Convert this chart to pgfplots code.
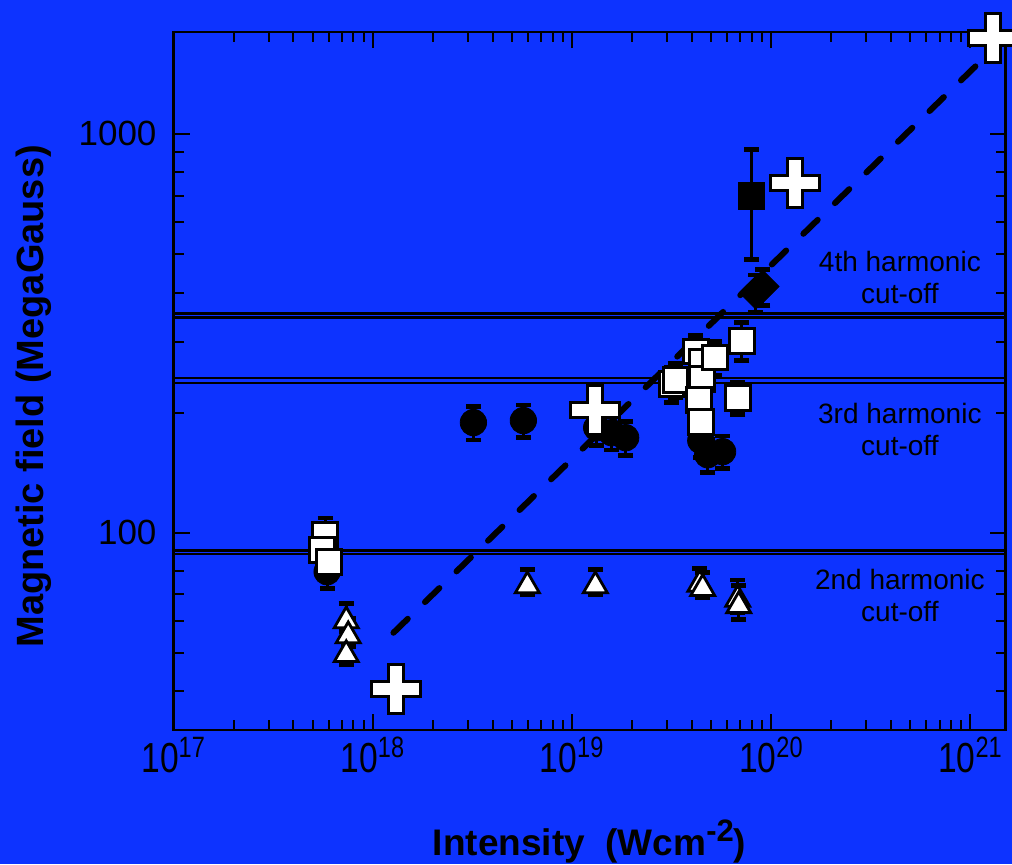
\documentclass[border=0pt]{standalone}
\usepackage{fontspec}
\setmainfont{Liberation Sans}
\usepackage{pgfplots}
\pgfplotsset{compat=1.18}
\usetikzlibrary{plotmarks}
\definecolor{bgblue}{RGB}{13,51,255}

\pgfdeclareplotmark{fatplus}{%
  \pgfpathmoveto{\pgfqpoint{-3.75pt}{12.25pt}}%
  \pgfpathlineto{\pgfqpoint{3.75pt}{12.25pt}}%
  \pgfpathlineto{\pgfqpoint{3.75pt}{3.75pt}}%
  \pgfpathlineto{\pgfqpoint{12.25pt}{3.75pt}}%
  \pgfpathlineto{\pgfqpoint{12.25pt}{-3.75pt}}%
  \pgfpathlineto{\pgfqpoint{3.75pt}{-3.75pt}}%
  \pgfpathlineto{\pgfqpoint{3.75pt}{-12.25pt}}%
  \pgfpathlineto{\pgfqpoint{-3.75pt}{-12.25pt}}%
  \pgfpathlineto{\pgfqpoint{-3.75pt}{-3.75pt}}%
  \pgfpathlineto{\pgfqpoint{-12.25pt}{-3.75pt}}%
  \pgfpathlineto{\pgfqpoint{-12.25pt}{3.75pt}}%
  \pgfpathlineto{\pgfqpoint{-3.75pt}{3.75pt}}%
  \pgfpathclose
  \pgfusepathqfillstroke}

\pgfplotsset{
  myerr/.style={error bars/.cd, y dir=both, y explicit,
    error bar style={line width=1.5pt, black},
    error mark options={rotate=90, mark size=3.8pt, line width=2.4pt, black}},
}

\begin{document}
\begin{tikzpicture}
\fill[bgblue] (-86.75pt,-67pt) rectangle (419.25pt,365pt);
\useasboundingbox (-86.75pt,-67pt) rectangle (419.25pt,365pt);
\begin{axis}[
  at={(0pt,0pt)}, anchor=south west,
  scale only axis, width=416pt, height=349pt,
  xmode=log, ymode=log,
  xmin=1e17, xmax=1.5e21, ymin=32, ymax=1800,
  clip=false,
  axis line style={line width=1.3pt, black},
  tick align=inside,
  major tick length=8pt, minor tick length=5pt,
  every tick/.style={black, line width=1pt},
  xtick={1e17,1e18,1e19,1e20,1e21},
  xticklabels={\scalebox{0.8}[1]{10\textsuperscript{17}},\scalebox{0.8}[1]{10\textsuperscript{18}},\scalebox{0.8}[1]{10\textsuperscript{19}},\scalebox{0.8}[1]{10\textsuperscript{20}},\scalebox{0.8}[1]{10\textsuperscript{21}}},
  minor xtick={2e17,3e17,4e17,5e17,6e17,7e17,8e17,9e17,2e18,3e18,4e18,5e18,6e18,7e18,8e18,9e18,2e19,3e19,4e19,5e19,6e19,7e19,8e19,9e19,2e20,3e20,4e20,5e20,6e20,7e20,8e20,9e20},
  ytick={100,1000},
  yticklabels={100,1000},
  minor ytick={40,50,60,70,80,90,200,300,400,500,600,700,800,900},
  xticklabel style={font=\fontsize{21}{23}\selectfont},
  yticklabel style={font=\fontsize{17.5}{20}\selectfont, xshift=-5pt},
  xlabel={Intensity\ \ (Wcm\raisebox{7pt}{\fontsize{15.5}{16}\selectfont -2})},
  xlabel style={at={(axis description cs:0.5,0)}, anchor=base, yshift=-62.5pt, font=\bfseries\fontsize{18.5}{20}\selectfont},
  ylabel={Magnetic field (MegaGauss)},
  ylabel style={at={(axis description cs:-0.1568,0.478)}, anchor=base, rotate=0, font=\bfseries\fontsize{19}{20}\selectfont},
]
% dashed fit line
\addplot[black, line width=3pt, dash pattern=on 10pt off 12pt, line cap=round] coordinates {(1.27e18,56.1) (1.25e21,1600)};

% filled circles
\addplot[only marks, mark=*, mark size=6.6pt, mark options={fill=black, draw=black}, myerr] coordinates {
 (5.90e17,79.8) +- (0,7.5)
 (3.20e18,188.8) +- (0,18)
 (5.70e18,191.0) +- (0,18)
 (1.33e19,183.3) +- (0,18)
 (1.58e19,178.1) +- (0,17)
 (1.86e19,173.0) +- (0,17)
 (4.43e19,170.1) +- (0,16)
 (4.80e19,156.8) +- (0,15)
 (5.70e19,159.6) +- (0,15)
};

% open squares
\addplot[only marks, mark=square*, mark size=6.2pt, mark options={fill=white, draw=black, line width=1.5pt}, myerr] coordinates {
 (5.77e17,98.8) +- (0,10)
 (5.57e17,90.6) +- (0,9)
 (6.04e17,84.5) +- (0,8)
 (3.16e19,236.1) +- (0,24)
 (3.31e19,241.6) +- (0,24)
 (4.18e19,284.6) +- (0,28)
 (4.48e19,268.6) +- (0,27)
 (4.48e19,243.3) +- (0,24)
 (5.20e19,274.8) +- (0,27)
 (7.11e19,302.9) +- (0,33)
 (4.33e19,215.3) +- (0,21)
 (4.43e19,189.7) +- (0,19)
 (6.79e19,217.8) +- (0,20)
};

% open triangles
\addplot[only marks, mark=triangle*, mark size=6.9pt, mark options={fill=white, draw=black, line width=1.4pt, yshift=-2pt}, myerr] coordinates {
 (7.36e17,61.5) +- (0,5)
 (7.53e17,56.4) +- (0,4.5)
 (7.36e17,50.6) +- (0,4)
 (5.97e18,75.3) +- (0,5.5)
 (1.31e19,75.3) +- (0,5.5)
 (4.38e19,75.9) +- (0,5.5)
 (4.53e19,74.1) +- (0,5.5)
 (6.79e19,69.6) +- (0,6.5)
 (6.87e19,67.1) +- (0,6.5)
};

% filled diamonds
\addplot[only marks, mark=square*, mark size=5.8pt, mark options={fill=black, draw=black, rotate=45}, myerr] coordinates {
 (8.36e19,399.7) +- (0,43)
 (9.06e19,414.2) +- (0,43)
};

% filled square
\addplot[only marks, mark=square*, mark size=6.6pt, mark options={fill=black, draw=black}, myerr] coordinates {
 (7.98e19,699.3) +- (0,215)
};

% open crosses
\addplot[only marks, mark=fatplus, mark options={fill=white, draw=black, line width=1.5pt, line join=miter}] coordinates {
 (1.31e18,40.6) (1.30e19,203.2) (1.31e20,753.7) (1.30e21,1741)
};

% harmonic cut-off double lines
\addplot[black, line width=1.2pt] coordinates {(1e17,354) (1.5e21,354)};
\addplot[black, line width=1.2pt] coordinates {(1e17,346) (1.5e21,346)};
\addplot[black, line width=1.2pt] coordinates {(1e17,244.5) (1.5e21,244.5)};
\addplot[black, line width=1.2pt] coordinates {(1e17,237.5) (1.5e21,237.5)};
\addplot[black, line width=1.2pt] coordinates {(1e17,90.2) (1.5e21,90.2)};
\addplot[black, line width=1.2pt] coordinates {(1e17,88.5) (1.5e21,88.5)};

\node[align=center, font=\fontsize{14}{16}\selectfont] at (rel axis cs:0.873,0.649) {4th harmonic\\cut-off};
\node[align=center, font=\fontsize{14}{16}\selectfont] at (rel axis cs:0.873,0.431) {3rd harmonic\\cut-off};
\node[align=center, font=\fontsize{14}{16}\selectfont] at (rel axis cs:0.873,0.192) {2nd harmonic\\cut-off};
\end{axis}
\end{tikzpicture}
\end{document}
